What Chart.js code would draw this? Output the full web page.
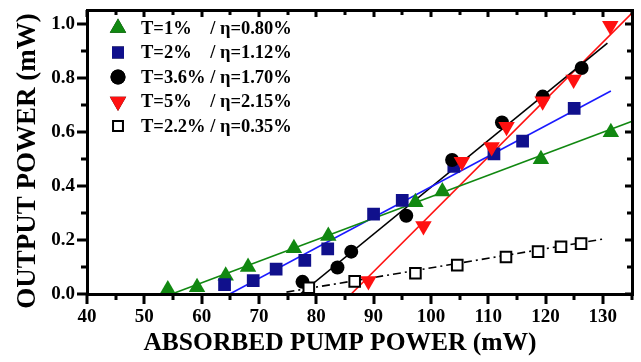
<!DOCTYPE html>
<html>
<head>
<meta charset="utf-8">
<script src="https://cdn.jsdelivr.net/npm/chart.js@4.4.1/dist/chart.umd.min.js"></script>
<style>
  html, body { margin: 0; padding: 0; background: #fff; }
  #wrap { width: 641px; height: 362px; }
</style>
</head>
<body>
<div id="wrap"><canvas id="myChart" width="641" height="362"></canvas></div>
<script>
// values (mW)
var xT1 = [54.1, 59.2, 64.2, 68.1, 76.1, 82.1, 97.3, 102.0, 119.2, 131.4];
var yT1 = [0.017, 0.025, 0.068, 0.10, 0.17, 0.215, 0.34, 0.38, 0.50, 0.60];

var xT2 = [64, 69, 73, 78, 82, 90, 95, 104, 111, 116, 125];
var yT2 = [0.035, 0.05, 0.092, 0.125, 0.167, 0.296, 0.347, 0.473, 0.52, 0.567, 0.688];

var xT36 = [77.6, 83.7, 86.1, 95.7, 103.7, 112.4, 119.5, 126.3];
var yT36 = [0.045, 0.098, 0.157, 0.29, 0.497, 0.636, 0.732, 0.838];

var xT5 = [89.1, 98.7, 105.4, 110.6, 113.2, 119.5, 124.9, 131.3];
var yT5 = [0.048, 0.252, 0.49, 0.545, 0.62, 0.715, 0.795, 0.995];

var xT22 = [78.7, 86.7, 97.3, 104.6, 113.1, 118.7, 122.7, 126.2];
var yT22 = [0.023, 0.047, 0.077, 0.107, 0.137, 0.157, 0.175, 0.187];

// linear fits: [start, end]
var fitT1x = [54.8, 135], fitT1y = [0, 0.64];
var fitT2x = [64.9, 131.4], fitT2y = [0, 0.753];
var fitT36x = [77.2, 130.8], fitT36y = [0, 0.93];
var fitT5x = [86.1, 135], fitT5y = [0, 1.04];
var fitT22x = [74.8, 130.1], fitT22y = [0.007, 0.204];

var legendLabels = [
    'T=1%    / \u03b7=0.80%',
    'T=2%    / \u03b7=1.12%',
    'T=3.6% / \u03b7=1.70%',
    'T=5%    / \u03b7=2.15%',
    'T=2.2% / \u03b7=0.35%'
];

var xTitle = 'ABSORBED PUMP POWER (mW)';
var yTitle = 'OUTPUT POWER (mW)';

var serif = "'Liberation Serif', 'Times New Roman', serif";

function pts(xs, ys) {
    return xs.map(function(x, i) { return {x: x, y: ys[i]}; });
}

function markers(label, xs, ys, style, fill, stroke, radius, rot, order) {
    return {
        label: label,
        data: pts(xs, ys),
        showLine: false,
        pointStyle: style,
        pointRotation: rot,
        pointRadius: radius,
        pointHoverRadius: radius,
        pointBackgroundColor: fill,
        pointBorderColor: stroke,
        pointBorderWidth: fill === '#ffffff' ? 2 : 0,
        order: order
    };
}

function fit(xs, ys, color, dash) {
    return {
        data: pts(xs, ys),
        showLine: true,
        borderColor: color,
        borderWidth: 1.6,
        borderDash: dash || [],
        pointRadius: 0,
        fill: false,
        order: 10
    };
}

var markerSets = [
    markers(legendLabels[0], xT1, yT1, 'triangle', '#118811', '#118811', 9.5, 0, 5),
    markers(legendLabels[1], xT2, yT2, 'rect', '#10108c', '#10108c', 9, 0, 4),
    markers(legendLabels[2], xT36, yT36, 'circle', '#000000', '#000000', 7, 0, 3),
    markers(legendLabels[3], xT5, yT5, 'triangle', '#ff1010', '#ff1010', 9.5, 180, 2),
    markers(legendLabels[4], xT22, yT22, 'rect', '#ffffff', '#000000', 7.5, 0, 1)
];

var fitSets = [
    fit(fitT1x, fitT1y, '#118811'),
    fit(fitT2x, fitT2y, '#1a1aff'),
    fit(fitT36x, fitT36y, '#000000'),
    fit(fitT5x, fitT5y, '#ff1010'),
    fit(fitT22x, fitT22y, '#000000', [8, 4, 2, 4])
];

// frame with outward ticks on bottom/left, inward on top/right, plus axis titles
var framePlugin = {
    id: 'frame',
    afterDraw: function(chart) {
        var c = chart.ctx, a = chart.chartArea;
        var sx = chart.scales.x, sy = chart.scales.y;
        var L = Math.round(a.left), R = Math.round(a.right);
        var T = Math.round(a.top), B = Math.round(a.bottom);
        c.save();
        c.fillStyle = '#000000';
        // box
        c.fillRect(L - 1, T - 1, R - L + 3, 3);
        c.fillRect(L - 1, B - 1, R - L + 3, 3);
        c.fillRect(L - 1, T - 1, 3, B - T + 3);
        c.fillRect(R - 1, T - 1, 3, B - T + 3);
        // x ticks
        for (var v = 40; v <= 135; v += 5) {
            var px = Math.round(sx.getPixelForValue(v));
            var major = v % 10 === 0;
            c.fillRect(px - 1.5, B, 3, major ? 10 : 6);
            c.fillRect(px - 1.5, T, 3, major ? 7 : 5);
        }
        // y ticks
        for (var k = 0; k <= 10; k++) {
            var py = Math.round(sy.getPixelForValue(k / 10));
            var maj = k % 2 === 0;
            c.fillRect(L - (maj ? 10 : 6), py - 1.5, maj ? 10 : 6, 3);
            c.fillRect(R - (maj ? 7 : 5), py - 1.5, maj ? 7 : 5, 3);
        }
        // axis titles
        c.textAlign = 'center';
        c.textBaseline = 'middle';
        c.font = 'bold 25.5px ' + serif;
        c.fillText(xTitle, 340, 343);
        c.translate(28, 161);
        c.rotate(-Math.PI / 2);
        c.font = 'bold 27px ' + serif;
        c.fillText(yTitle, 0, 0);
        c.restore();
    }
};

// legend inside the plot, top left
var legendPlugin = {
    id: 'insideLegend',
    afterDraw: function(chart) {
        var c = chart.ctx;
        c.save();
        c.font = 'bold 18.5px ' + serif;
        c.textBaseline = 'middle';
        c.textAlign = 'left';
        markerSets.forEach(function(ds, i) {
            var y = 28 + i * 24.5;
            var r = ds.pointStyle === 'triangle' ? 9.5 : (ds.pointBackgroundColor === '#ffffff' ? 7 : 8.5);
            if (ds.pointStyle === 'circle') r = 7.5;
            Chart.helpers.drawPoint(c, {
                pointStyle: ds.pointStyle,
                rotation: ds.pointRotation,
                radius: r,
                borderWidth: ds.pointBorderWidth
            }, 118, y);
            c.fillStyle = ds.pointBackgroundColor;
            c.strokeStyle = ds.pointBorderColor;
            c.lineWidth = ds.pointBorderWidth;
            c.fill();
            if (ds.pointBorderWidth) c.stroke();
            c.fillStyle = '#000';
            c.fillText(ds.label, 141, y + 1);
        });
        c.restore();
    }
};

var ctx = document.getElementById('myChart');

var myChart = new Chart(ctx, {
    type: 'scatter',
    data: {
        datasets: markerSets.concat(fitSets)
    },
    options: {
        responsive: false,
        animation: false,
        events: [],
        layout: { padding: { top: 5, right: 9, left: 0, bottom: 0 } },
        plugins: { legend: { display: false }, tooltip: { enabled: false } },
        scales: {
            x: {
                type: 'linear',
                min: 40, max: 135,
                grid: { display: false, drawTicks: false },
                border: { display: false },
                ticks: {
                    stepSize: 10, includeBounds: false, padding: 12,
                    color: '#000', font: { family: serif, size: 19, weight: 'bold' },
                    maxRotation: 0
                },
                afterFit: function(s) { s.height = 68; s.paddingLeft = 0; s.paddingRight = 0; }
            },
            y: {
                type: 'linear',
                min: 0, max: 1.055,
                grid: { display: false, drawTicks: false },
                border: { display: false },
                ticks: {
                    stepSize: 0.2, includeBounds: false, padding: 12,
                    color: '#000', font: { family: serif, size: 19, weight: 'bold' },
                    callback: function(v) { return v.toFixed(1); }
                },
                afterFit: function(s) { s.width = 87; s.paddingTop = 0; s.paddingBottom = 0; }
            }
        }
    },
    plugins: [framePlugin, legendPlugin]
});
</script>
</body>
</html>
